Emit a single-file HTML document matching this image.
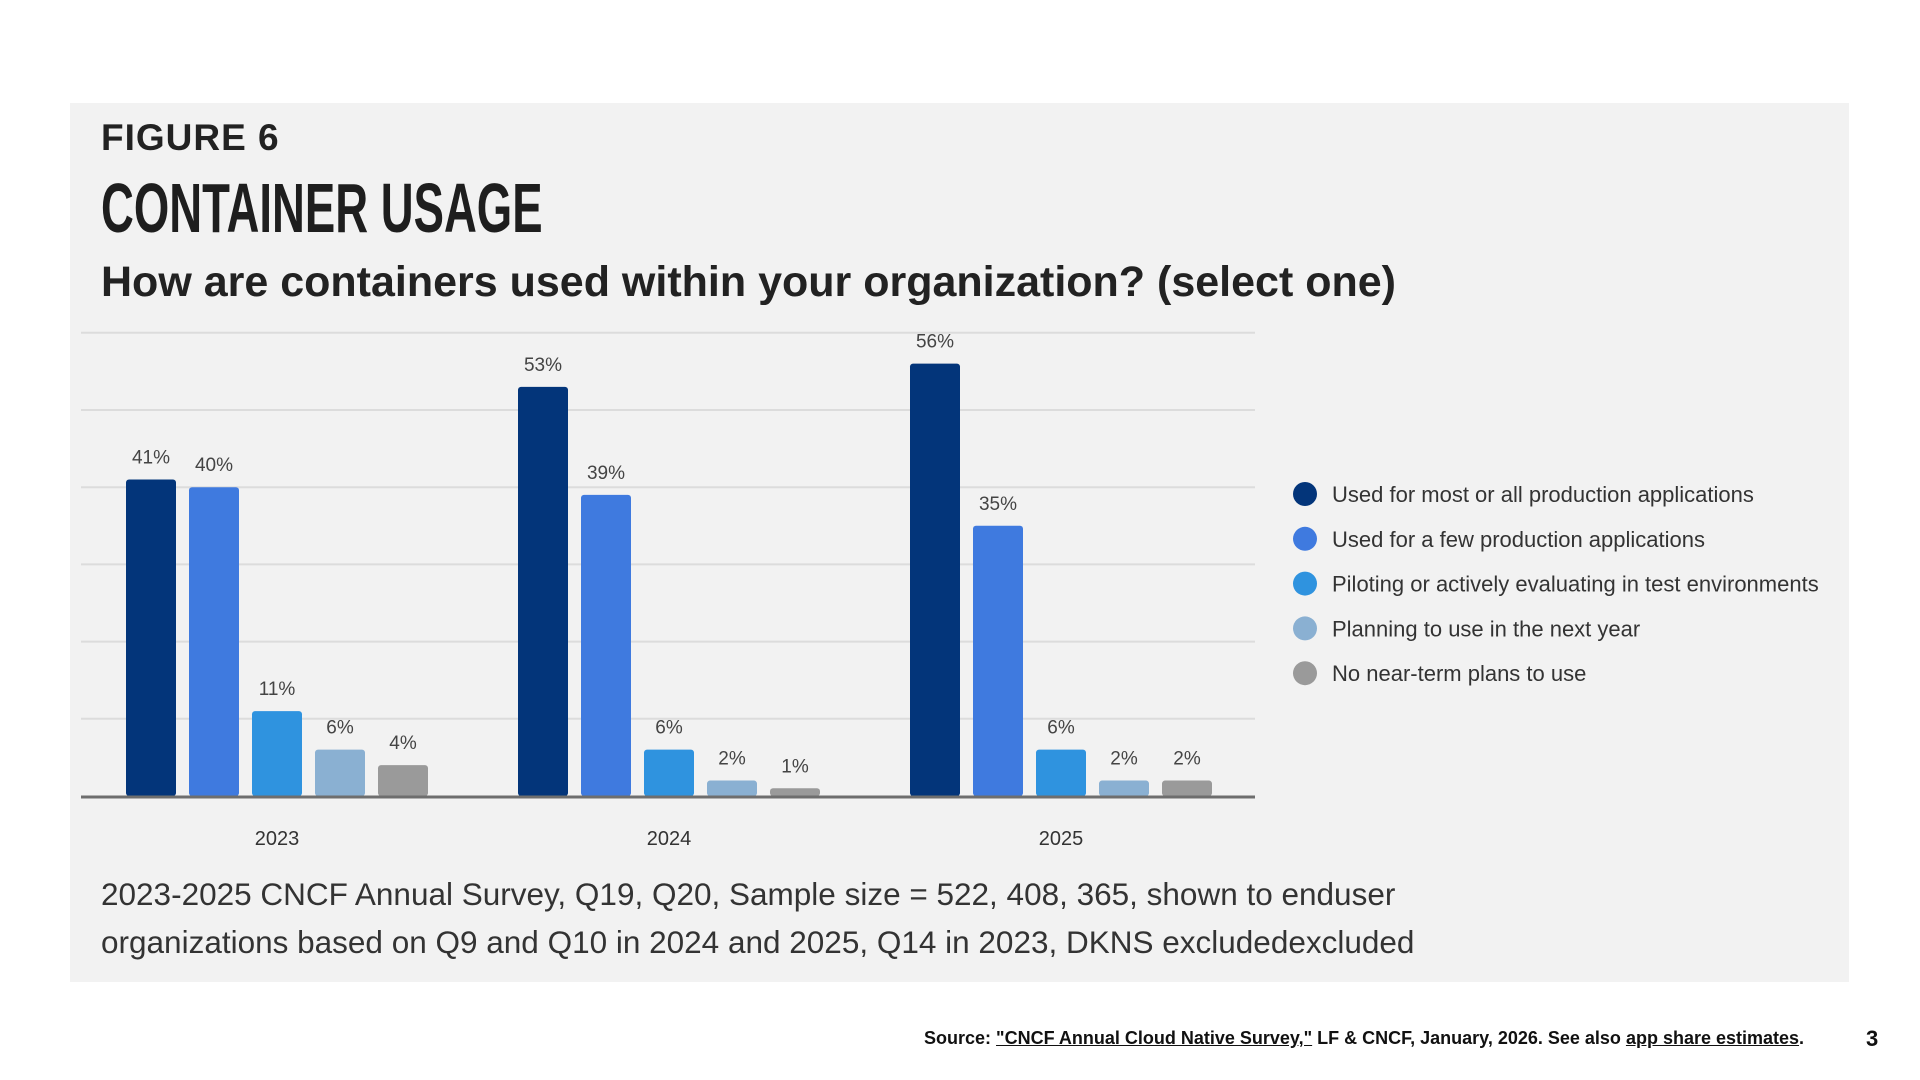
<!DOCTYPE html>
<html><head><meta charset="utf-8"><style>
body{margin:0;width:1920px;height:1080px;background:#fff;font-family:"Liberation Sans",sans-serif;position:relative;overflow:hidden}
.panel{position:absolute;left:70px;top:103px;width:1779px;height:879px;background:#f2f2f2}
.abs{position:absolute;white-space:nowrap}
</style></head><body>
<div class="panel"></div>
<div class="abs" style="left:101px;top:117px;font-size:37px;font-weight:bold;color:#222;letter-spacing:1px">FIGURE 6</div>
<div class="abs" style="left:101px;top:168px;font-size:70px;font-weight:bold;color:#1e1e1e;transform:scaleX(0.65);transform-origin:left">CONTAINER USAGE</div>
<div class="abs" style="left:101px;top:258px;font-size:43px;font-weight:bold;color:#222">How are containers used within your organization? (select one)</div>
<svg id="chart" width="1920" height="1080" style="position:absolute;left:0;top:0"></svg>
<div class="abs" style="left:101px;top:870px;font-size:31.5px;color:#333;line-height:48px">2023-2025 CNCF Annual Survey, Q19, Q20, Sample size = 522, 408, 365, shown to enduser<br>organizations based on Q9 and Q10 in 2024 and 2025, Q14 in 2023, DKNS excludedexcluded</div>
<div class="abs" style="left:924px;top:1028px;font-size:18px;font-weight:bold;color:#111">Source: <u>"CNCF Annual Cloud Native Survey,"</u> LF &amp; CNCF, January, 2026. See also <u>app share estimates</u>.</div>
<div class="abs" style="left:1866px;top:1026px;font-size:22px;font-weight:bold;color:#111">3</div>
<script>
const years=["2023","2024","2025"];
const seriesNames=["Used for most or all production applications","Used for a few production applications","Piloting or actively evaluating in test environments","Planning to use in the next year","No near-term plans to use"];
const mostAll=[41,53,56];
const fewApps=[40,39,35];
const piloting=[11,6,6];
const planning=[6,2,2];
const noPlans=[4,1,2];
const gridTicks=[0,10,20,30,40,50,60];
const series=[mostAll,fewApps,piloting,planning,noPlans];
const colors=["#03357a","#3f7adf","#2f93df","#8ab0d2","#9a9a9a"];
const NS="http://www.w3.org/2000/svg";
const svg=document.getElementById('chart');
const base=796,pxPer=7.72,left=81,right=1255;
const y=v=>base-v*pxPer;
const groupX=i=>277+i*392;
const barW=50,barStep=63;
function mk(t,a){const e=document.createElementNS(NS,t);for(const k in a)e.setAttribute(k,a[k]);svg.appendChild(e);return e;}
gridTicks.forEach(t=>{if(t===0)return;
const g=mk('line',{x1:left,x2:right,y1:y(t),y2:y(t),stroke:'#dcdcdc','stroke-width':2});

});
series.forEach((s,si)=>{s.forEach((v,gi)=>{
const x=groupX(gi)+(si-2)*barStep-barW/2;
const r=mk('rect',{x:x,y:y(v),width:barW,height:v*pxPer,fill:colors[si],rx:3});


const t=mk('text',{x:x+barW/2,y:y(v)-16,'text-anchor':'middle','font-size':19,fill:'#444','font-family':'Liberation Sans, sans-serif'});
t.textContent=v+'%';


});});
const ax=mk('line',{x1:left,x2:right,y1:base+1,y2:base+1,stroke:'#6e6e6e','stroke-width':3});


years.forEach((yr,i)=>{const t=mk('text',{x:groupX(i),y:845,'text-anchor':'middle','font-size':20,fill:'#333','font-family':'Liberation Sans, sans-serif'});t.textContent=yr;

});
seriesNames.forEach((n,i)=>{const cy=494+i*44.8;
const c=mk('circle',{cx:1305,cy:cy,r:12,fill:colors[i]});


const t=mk('text',{x:1332,y:cy+8,'font-size':22,fill:'#333','font-family':'Liberation Sans, sans-serif'});t.textContent=n;

});
</script>
</body></html>
